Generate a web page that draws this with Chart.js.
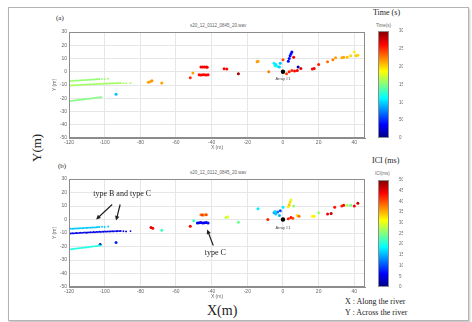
<!DOCTYPE html>
<html>
<head>
<meta charset="utf-8">
<script src="https://cdn.jsdelivr.net/npm/chart.js@4.4.0/dist/chart.umd.min.js"></script>
<style>
  body { margin: 0; width: 472px; height: 322px; background: #fff; position: relative; overflow: hidden; font-family: "Liberation Serif", serif; }
  #frame { position: absolute; left: 8px; top: 7px; width: 459px; height: 312px; border: 1px solid #b4b4b4; box-shadow: 1px 2px 2px #c8c8c8; }
  canvas { position: absolute; }
  .lbl { position: absolute; white-space: nowrap; color: #222; line-height: 1; }
  .tiny { position: absolute; white-space: nowrap; font-family: "Liberation Sans", sans-serif; font-size: 4.5px; color: #666; line-height: 1; }
</style>
</head>
<body>
<div id="frame"></div>

<div class="lbl" style="left:56px;top:15px;font-size:7px">(a)</div>
<div class="lbl" style="left:58px;top:163px;font-size:7px">(b)</div>
<div class="tiny" style="left:190px;top:24px">s20_12_0112_0845_20.wav</div>
<div class="tiny" style="left:190px;top:171px">s20_12_0112_0845_20.wav</div>

<div class="lbl" style="left:373px;top:9px;font-size:8px">Time (s)</div>
<div class="lbl" style="left:372px;top:157px;font-size:8px">ICI (ms)</div>
<div class="tiny" style="left:376px;top:24px">Time(s)</div>
<div class="tiny" style="left:375px;top:172px">ICI(ms)</div>

<div class="lbl" style="left:30px;top:162px;font-size:13px;transform:rotate(-90deg);transform-origin:0 0">Y(m)</div>
<div class="lbl" style="left:207px;top:304px;font-size:14px">X(m)</div>
<div class="lbl" style="left:345px;top:298px;font-size:8px">X : Along the river</div>
<div class="lbl" style="left:345px;top:309px;font-size:8px">Y : Across the river</div>

<canvas id="chartA" width="330" height="130" style="left:40px;top:26px"></canvas>
<canvas id="chartB" width="330" height="134" style="left:40px;top:173px"></canvas>
<canvas id="barA" width="40" height="130" style="left:370px;top:26px"></canvas>
<canvas id="barB" width="40" height="134" style="left:370px;top:173px"></canvas>

<script>
// axis ticks
const xTicks = [-120, -100, -80, -60, -40, -20, 0, 20, 40];
const yTicks = [-50, -40, -30, -20, -10, 0, 10, 20, 30];
const timeTicks = [0, 50, 100, 150, 200, 250, 300];
const iciTicks = [0, 5, 10, 15, 20, 25, 30, 35, 40, 45, 50];

// detection bands (same positions in both panels)
const upperX = [-119, -118.2, -117.4, -116.6, -115.8, -115, -114.2, -113.4, -112.6, -111.8, -111, -110.2, -109.4, -108.6,
  -107.8, -107, -106.2, -105.4, -104.6, -103.8, -103, -101.5, -100, -98];
const upperY = [-6.9, -6.8, -6.9, -6.7, -6.6, -6.7, -6.5, -6.4, -6.5, -6.3, -6.2, -6.3, -6.1, -6.0,
  -6.1, -5.9, -5.8, -5.9, -5.7, -5.6, -5.5, -5.4, -5.6, -5.2];
const midX = [-119, -118.2, -117.4, -116.6, -115.8, -115, -114.2, -113.4, -112.6, -111.8, -111, -110.2, -109.4, -108.6,
  -107.8, -107, -106.2, -105.4, -104.6, -103.8, -103, -102.2, -101.4, -100.6, -99.8, -99, -98.2, -97.4, -96.6, -95.8,
  -95, -94.2, -93.4, -92.6, -91.8, -91, -89.5, -88, -85.5];
const midY = [-10.4, -10.2, -10.3, -10.1, -10.0, -10.1, -9.9, -9.8, -9.9, -9.7, -9.6, -9.8, -9.6, -9.5,
  -9.4, -9.5, -9.3, -9.4, -9.2, -9.3, -9.1, -9.2, -9.0, -9.1, -8.9, -9.0, -8.8, -8.9, -8.8, -8.7,
  -8.8, -8.6, -8.7, -8.5, -8.6, -8.5, -8.7, -8.8, -8.6];
const lowX = [-119.5, -118.7, -117.9, -117.1, -116.3, -115.5, -114.7, -113.9, -113.1, -112.3, -111.5, -110.7,
  -109.9, -109.1, -108.3, -107.5, -106.7, -105.9, -105.1, -104.3, -103.5, -102.7, -101.9];
const lowY = [-22.1, -22.0, -21.9, -21.7, -21.6, -21.5, -21.3, -21.2, -21.1, -20.9, -20.8, -20.7,
  -20.5, -20.4, -20.3, -20.1, -20.0, -19.9, -19.7, -19.6, -19.5, -19.3, -19.2];

// panel (a): colour = time (s)
const aBandTime = [155, 160, 150];
const aSpotX = [-93.6, -75.5, -74.5, -73.5, -68, -52, -50.5, -46, -45, -44, -43, -42.5, -47, -46, -45, -44, -43, -42, -33, -31.5, -25,
  -14.5, -14, -8, -5, -4.5, -4, -3, -2, -1.5, 0, 3, 3.5, 4, 4.5, 5, 6, 2, 3.5, 5, 6.5, 8, 8.5, 10, 16.5, 17.5, 20, 25, 28, 29.5, 33, 34, 36, 38, 40, 41, 42];
const aSpotY = [-17, -8, -7.5, -6.8, -8.5, -4.5, -1, 3.5, 3.6, 3.5, 3.6, 3.4, -2.3, -2.4, -2.2, -2.3, -2.4, -2.3, 2.2, 2, -1.5,
  7.5, 8, 0, 6.5, 4.5, 5.5, 4, 3.5, 6.5, 9, 8, 10, 12, 13.5, 15, 11, -1.5, 0, 1, 0.5, 1, 3.5, 2.5, 2, 2.5, 5.5, 7.5, 9, 10.5, 10.5, 11, 11, 12, 15, 12, 12.5];
const aSpotTime = [95, 215, 215, 220, 215, 250, 215, 265, 265, 265, 265, 265, 262, 262, 262, 262, 262, 262, 262, 262, 290,
  220, 215, 225, 110, 120, 105, 115, 100, 95, 240, 40, 40, 40, 40, 40, 265, 245, 255, 250, 260, 265, 15, 270, 265, 265, 255, 230, 225, 215, 210, 215, 205, 200, 190, 205, 200];

// panel (b): colour = ICI (ms)
const bBandIci = [16, 5, 20];
const bSpotX = [-93.6, -102.5, -74, -73, -68, -52, -50, -46, -45, -44, -43, -48, -47, -46, -45, -44, -43, -42, -32, -31, -25,
  -14, -8.5, -5, -4, -3, -2, -4.5, -1.5, 0, 3, 3.5, 4, 4.5, 6, 3, 4.5, 5.5, 8, 9, 16.5, 17.5, 20, 25, 27, 29, 33, 34, 36, 38, 40, 42];
const bSpotY = [-17, -18.5, -6, -6.5, -8, -5, -1, 3.5, 3.4, 3.6, 3.5, -2.5, -2.4, -2.3, -2.5, -2.4, -2.3, -2.5, 1.5, 2, -2,
  8, 0, 5, 4, 5.5, 3, 6, 6.5, 9, 9.5, 11, 13, 14.5, 10, 0.5, 1.5, 1, 3, 2.5, 2.5, 2.5, 5, 4, 4.5, 9, 10, 10.5, 10.5, 10.5, 10, 12];
const bSpotIci = [8, 2, 46, 44, 22, 44, 22, 38, 42, 36, 40, 6, 5, 6, 5, 6, 5, 7, 28, 30, 24,
  18, 42, 14, 16, 12, 15, 17, 10, 18, 32, 34, 33, 30, 26, 42, 44, 40, 33, 38, 31, 32, 26, 44, 47, 43, 42, 44, 28, 24, 44, 46];

// array position
const arrayX = [0];
const arrayY = [0];

// annotations in data units: [tailX, tailY, headX, headY]
const arrowsB = [[-95.8, 11.1, -104.8, 0], [-91.3, 11.1, -93.6, -0.7], [-39.1, -19.3, -42.5, -7.4]];
const notesB = [[-90.2, 19.3, 'type B and type C'], [-38, -25, 'type C']];

function jet(t) {
  t = Math.min(1, Math.max(0, t));
  const c = v => Math.round(255 * Math.min(1, Math.max(0, 1.5 - Math.abs(v))));
  return 'rgb(' + c(4 * t - 3) + ',' + c(4 * t - 2) + ',' + c(4 * t - 1) + ')';
}

function pts(xs, ys) {
  return xs.map((x, i) => ({ x: x, y: ys[i] }));
}

function drawArrow(ctx, x1, y1, x2, y2) {
  const ang = Math.atan2(y2 - y1, x2 - x1);
  ctx.beginPath();
  ctx.moveTo(x1, y1);
  ctx.lineTo(x2 - 3 * Math.cos(ang), y2 - 3 * Math.sin(ang));
  ctx.stroke();
  ctx.beginPath();
  ctx.moveTo(x2, y2);
  ctx.lineTo(x2 - 5 * Math.cos(ang - 0.45), y2 - 5 * Math.sin(ang - 0.45));
  ctx.lineTo(x2 - 5 * Math.cos(ang + 0.45), y2 - 5 * Math.sin(ang + 0.45));
  ctx.closePath();
  ctx.fill();
}

const boxPlugin = {
  id: 'box',
  afterDraw(chart) {
    const { ctx, chartArea: a } = chart;
    ctx.save();
    ctx.strokeStyle = '#8c8c8c';
    ctx.lineWidth = 1;
    ctx.strokeRect(a.left + 0.5, a.top + 0.5, a.right - a.left - 1, a.bottom - a.top - 1);
    ctx.restore();
  }
};

function arrayLabel(dy) {
  return {
    id: 'arrayLabel',
    afterDatasetsDraw(chart) {
      const { ctx, scales: { x, y } } = chart;
      ctx.save();
      ctx.fillStyle = '#444';
      ctx.font = '4px "Liberation Sans"';
      ctx.textAlign = 'center';
      ctx.fillText('Array #1', x.getPixelForValue(arrayX[0]), y.getPixelForValue(arrayY[0] + dy));
      ctx.restore();
    }
  };
}

const notePlugin = {
  id: 'notes',
  afterDatasetsDraw(chart) {
    const { ctx, scales: { x, y } } = chart;
    ctx.save();
    ctx.strokeStyle = '#222';
    ctx.fillStyle = '#222';
    ctx.lineWidth = 1.2;
    arrowsB.forEach(a => drawArrow(ctx, x.getPixelForValue(a[0]), y.getPixelForValue(a[1]),
      x.getPixelForValue(a[2]), y.getPixelForValue(a[3])));
    ctx.font = '8px "Liberation Serif"';
    ctx.textAlign = 'center';
    ctx.textBaseline = 'middle';
    notesB.forEach(n => ctx.fillText(n[2], x.getPixelForValue(n[0]), y.getPixelForValue(n[1])));
    ctx.restore();
  }
};

function makeScatter(id, bandVals, spotX, spotY, spotVals, maxVal, pad, extra) {
  const bands = [[upperX, upperY], [midX, midY], [lowX, lowY]].map((b, i) => ({
    data: pts(b[0], b[1]),
    pointBackgroundColor: jet(bandVals[i] / maxVal),
    pointBorderWidth: 0,
    pointRadius: 0.95
  }));
  const spots = {
    data: pts(spotX, spotY),
    pointBackgroundColor: spotVals.map(v => jet(v / maxVal)),
    pointBorderWidth: 0,
    pointRadius: 1.5
  };
  const arr = {
    data: pts(arrayX, arrayY),
    pointBackgroundColor: '#000',
    pointBorderWidth: 0,
    pointRadius: 2.2
  };
  const tickFont = { size: 5, family: 'Liberation Sans' };
  new Chart(document.getElementById(id), {
    type: 'scatter',
    data: { datasets: bands.concat([spots, arr]) },
    options: {
      responsive: false,
      animation: false,
      layout: { padding: pad },
      plugins: { legend: { display: false }, tooltip: { enabled: false } },
      scales: {
        x: {
          type: 'linear', min: -120, max: 46,
          afterBuildTicks: s => { s.ticks = xTicks.map(v => ({ value: v })); },
          afterFit: s => { s.height = 14; },
          ticks: { font: tickFont, color: '#666', padding: 1.5, maxRotation: 0, autoSkip: false },
          grid: { color: '#e6e6e6', drawTicks: false },
          border: { color: '#8c8c8c' },
          title: { display: true, text: 'X (m)', font: tickFont, color: '#666', padding: { top: 0, bottom: 1 } }
        },
        y: {
          type: 'linear', min: -50, max: 30,
          afterBuildTicks: s => { s.ticks = yTicks.map(v => ({ value: v })); },
          afterFit: s => { s.width = 22; },
          ticks: { font: tickFont, color: '#666', padding: 2, autoSkip: false },
          grid: { color: '#e6e6e6', drawTicks: false },
          border: { color: '#8c8c8c' },
          title: { display: true, text: 'Y (m)', font: tickFont, color: '#666', padding: { top: 5, bottom: 0 } }
        }
      }
    },
    plugins: [boxPlugin].concat(extra)
  });
}

function makeColorbar(id, ticks, pad) {
  const maxVal = ticks[ticks.length - 1];
  new Chart(document.getElementById(id), {
    type: 'bar',
    data: {
      labels: [''],
      datasets: [{
        data: [maxVal],
        barPercentage: 1,
        categoryPercentage: 1,
        borderWidth: 0,
        backgroundColor: ctx => {
          const a = ctx.chart.chartArea;
          if (!a) return '#00f';
          const g = ctx.chart.ctx.createLinearGradient(0, a.bottom, 0, a.top);
          for (let i = 0; i <= 16; i++) g.addColorStop(i / 16, jet(i / 16));
          return g;
        }
      }]
    },
    options: {
      responsive: false,
      animation: false,
      layout: { padding: pad },
      plugins: { legend: { display: false }, tooltip: { enabled: false } },
      scales: {
        x: { display: false },
        y: {
          position: 'right', min: 0, max: maxVal,
          afterBuildTicks: s => { s.ticks = ticks.map(v => ({ value: v })); },
          afterFit: s => { s.width = 14; },
          ticks: { font: { size: 4.5, family: 'Liberation Sans' }, color: '#666', padding: 2 },
          grid: { display: false },
          border: { display: false }
        }
      }
    },
    plugins: [boxPlugin]
  });
}

makeScatter('chartA', aBandTime, aSpotX, aSpotY, aSpotTime, 300,
  { left: 7, top: 6, right: 5, bottom: 4 }, [arrayLabel(-6)]);
makeScatter('chartB', bBandIci, bSpotX, bSpotY, bSpotIci, 50,
  { left: 7, top: 6, right: 5, bottom: 6 }, [arrayLabel(-7), notePlugin]);
makeColorbar('barA', timeTicks, { left: 8, top: 5, right: 7, bottom: 18 });
makeColorbar('barB', iciTicks, { left: 8, top: 7, right: 7, bottom: 20 });
</script>
</body>
</html>
